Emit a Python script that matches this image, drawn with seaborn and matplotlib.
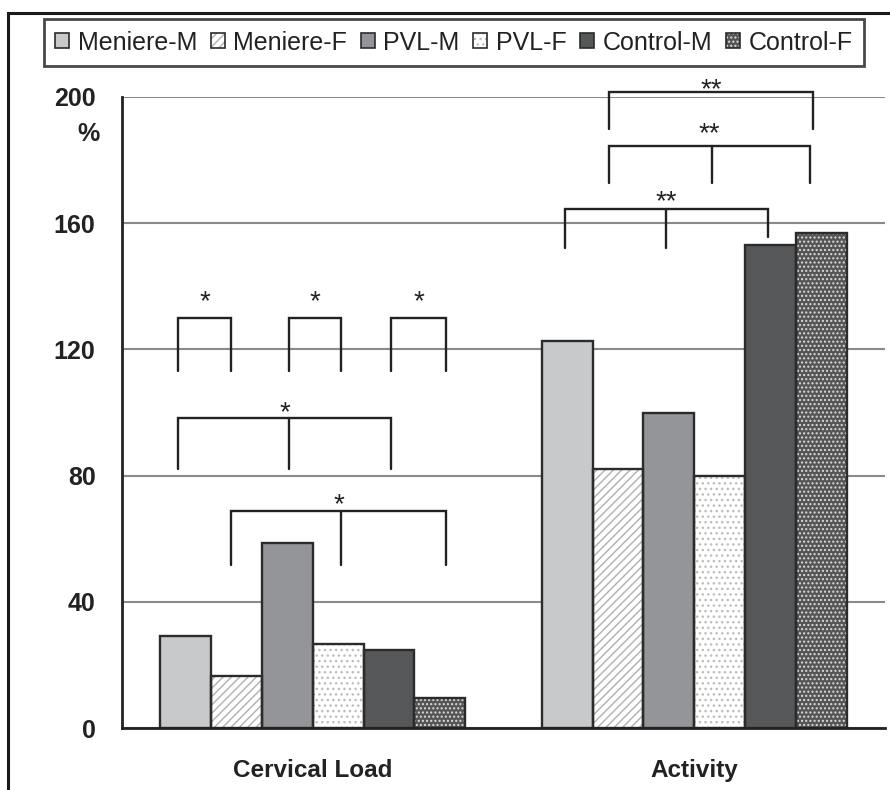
import matplotlib
matplotlib.use("Agg")
import numpy as np
import pandas as pd
import seaborn as sns
import matplotlib.pyplot as plt
from matplotlib.patches import Rectangle, Patch
from matplotlib.lines import Line2D

# ---------------- data ----------------
categories = ["Cervical Load", "Activity"]
groups = ["Meniere-M", "Meniere-F", "PVL-M", "PVL-F", "Control-M", "Control-F"]
cervical_load = [29.2, 16.6, 58.6, 26.7, 24.8, 9.6]
activity = [122.6, 82.0, 100.0, 80.0, 153.0, 157.0]
yticks = [0, 40, 80, 120, 160, 200]

# significance brackets: category index, bar slots, top, leg bottoms, star height, label
br_group = [0, 0, 0, 0, 0, 1, 1, 1]
br_slots = [[-0.14, 0.895], [2.035, 3.055], [4.045, 5.12],
            [-0.14, 2.035, 4.045], [0.895, 3.055, 5.12],
            [-0.04, 1.95, 3.955], [0.83, 2.85, 4.78], [0.83, 4.84]]
br_top = [130, 130, 130, 98.3, 68.7, 164.4, 184.5, 201.7]
br_bottom = [[113, 113], [113, 113], [113, 113],
             [82.2, 82.2, 82.2], [51.7, 51.7, 51.7],
             [152, 152, 155.6], [172.6, 172.6, 172.6], [189.8, 189.8]]
br_star_y = [137.8, 137.8, 137.8, 102.5, 73.4, 169.4, 190.9, 204.8]
br_label = ["*", "*", "*", "*", "*", "**", "**", "**"]

# ---------------- style ----------------
face_colors = ["#c8c9cb", "#ffffff", "#939598", "#ffffff", "#555759", "#555555"]
hatch_patterns = ["", "////", "", "...", "", "...."]
hatch_colors = ["none", "#b0b0b0", "none", "#bdbdbd", "none", "#dcdcdc"]
edge_col = "#2b2b2b"

sns.set_theme(style="white")
plt.rcParams["font.family"] = ["Liberation Sans", "DejaVu Sans"]
plt.rcParams["hatch.linewidth"] = 1.0

fig = plt.figure(figsize=(8.9, 7.9), dpi=100)
ax = fig.add_axes([122 / 890, 1 - 728 / 790, (885 - 122) / 890, (728 - 97) / 790])

df = pd.DataFrame({
    "category": np.repeat(categories, len(groups)),
    "group": groups * len(categories),
    "value": cervical_load + activity,
})

sns.barplot(data=df, x="category", y="value", hue="group", hue_order=groups,
            order=categories, palette=face_colors, saturation=1, width=0.8,
            ax=ax, legend=False, zorder=3, errorbar=None)

for i, cont in enumerate(ax.containers):
    for p in cont:
        p.set_facecolor(face_colors[i])
        if hatch_patterns[i]:
            p.set_edgecolor(hatch_colors[i])
            p.set_hatch(hatch_patterns[i])
        p.set_linewidth(0)
        ax.add_patch(Rectangle(p.get_xy(), p.get_width(), p.get_height(),
                               fill=False, edgecolor=edge_col, linewidth=1.7,
                               zorder=4))

# axes styling
ax.set_xlim(-0.5, 1.5)
ax.set_ylim(0, 200)
ax.set_yticks(yticks)
ax.yaxis.grid(True, color="#8a8a8a", linewidth=1.5)
ax.xaxis.grid(False)
ax.set_axisbelow(True)
ax.set_xlabel("")
ax.set_ylabel("")
ax.tick_params(axis="y", length=9, width=1.5, color="#8a8a8a", pad=10,
               labelsize=18, labelcolor="#222222")
for lbl in ax.get_yticklabels():
    lbl.set_fontweight("bold")
ax.set_xticks([0, 1])
ax.set_xticklabels(categories, fontweight="bold", fontsize=17.5, color="#222222")
ax.tick_params(axis="x", which="major", length=0, pad=22)
ax.set_xticks([-0.5, 0.5, 1.5], minor=True)
ax.tick_params(axis="x", which="minor", length=8, width=2, color="#222222",
               direction="out")
for s in ["top", "right"]:
    ax.spines[s].set_visible(False)
for s in ["left", "bottom"]:
    ax.spines[s].set_color("#222222")
    ax.spines[s].set_linewidth(2)
    ax.spines[s].set_zorder(5)

# significance brackets
bar_w = 0.8 / len(groups)
for g, slots, top, bottoms, sy, lab in zip(br_group, br_slots, br_top,
                                            br_bottom, br_star_y, br_label):
    xs = [g - 0.4 + bar_w * (s + 0.5) for s in slots]
    ax.plot([xs[0], xs[0], xs[-1], xs[-1]], [bottoms[0], top, top, bottoms[-1]],
            color="#222222", lw=1.7, clip_on=False, zorder=6,
            solid_joinstyle="miter")
    for x, b in zip(xs[1:-1], bottoms[1:-1]):
        ax.plot([x, x], [b, top], color="#222222", lw=1.7, clip_on=False, zorder=6)
    ax.annotate(lab, xy=((xs[0] + xs[-1]) / 2, sy), xytext=(0, -11.4),
                textcoords="offset points", ha="center", va="baseline",
                fontsize=20, color="#222222", annotation_clip=False)

# "%" unit label
fig.text(99.5 / 890, 1 - 134 / 790, "%", ha="right", va="center",
         fontsize=18, fontweight="bold", color="#222222")

# legend
handles = []
for i in range(len(groups)):
    base = Patch(facecolor=face_colors[i], hatch=hatch_patterns[i] or None,
                 edgecolor=hatch_colors[i] if hatch_patterns[i] else "none",
                 linewidth=0)
    outline = Patch(fill=False, edgecolor=edge_col, linewidth=1.2)
    handles.append((base, outline))
leg = fig.legend(handles, groups, loc="center",
                 bbox_to_anchor=(454 / 890, 1 - 42.5 / 790), ncol=6,
                 fontsize=18, handlelength=0.55, handleheight=0.55,
                 handletextpad=0.35, columnspacing=0.55, frameon=True,
                 fancybox=False, edgecolor="#1a1a1a", borderpad=0.45,
                 borderaxespad=0)
leg.get_frame().set_linewidth(2)
for t in leg.get_texts():
    t.set_color("#222222")

# figure border (left and top)
fig.add_artist(Line2D([8 / 890, 8 / 890], [0, 1 - 13 / 790],
                      transform=fig.transFigure, color="#1a1a1a", lw=2.2))
fig.add_artist(Line2D([8 / 890, 1], [1 - 13 / 790, 1 - 13 / 790],
                      transform=fig.transFigure, color="#1a1a1a", lw=2.2,
                      solid_capstyle="projecting"))

fig.savefig("out.png", dpi=100)
